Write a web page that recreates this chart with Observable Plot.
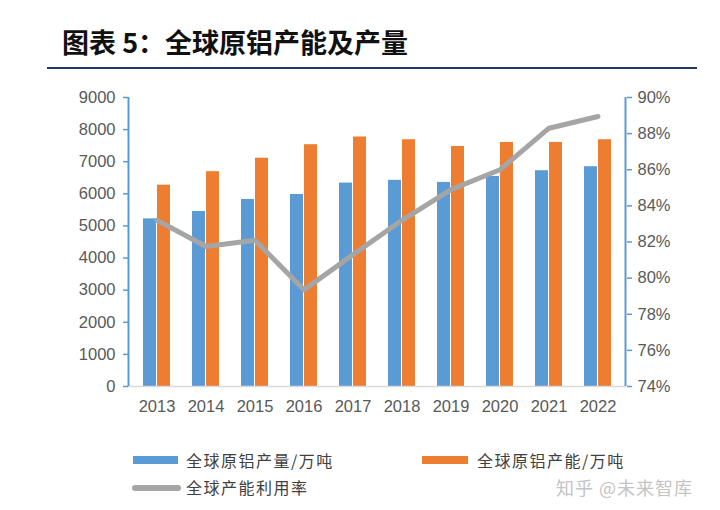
<!DOCTYPE html>
<html>
<head>
<meta charset="utf-8">
<script src="https://cdn.jsdelivr.net/npm/d3@7"></script>
<script src="https://cdn.jsdelivr.net/npm/@observablehq/plot@0.6"></script>
<style>
  html, body { margin: 0; padding: 0; background: #fff; }
  #page { position: relative; width: 720px; height: 510px; overflow: hidden; font-family: "Noto Sans CJK SC", "Noto Sans", sans-serif; }
  #title { position: absolute; left: 62px; top: 23px; font-size: 27px; font-weight: bold; color: #111; line-height: 38px; white-space: nowrap; }
  #rule { position: absolute; left: 47px; top: 67px; width: 650px; height: 2px; background: #1f3864; }
  #chart { position: absolute; left: 0; top: 80px; }
  .leg { position: absolute; font-size: 16px; letter-spacing: 1.5px; color: #404040; line-height: 20px; white-space: nowrap; }
  .sw { position: absolute; }
  #wm { position: absolute; left: 556px; top: 475px; font-size: 18px; color: #c4c4c4; letter-spacing: 1px; white-space: nowrap; line-height: 24px; }
</style>
</head>
<body>
<div id="page">
  <div id="title"></div>
  <div id="rule"></div>
  <div id="chart"></div>
  <div id="legend"></div>
  <div id="wm">知乎 @未来智库</div>
</div>
<script>
const titleText = "图表 5：全球原铝产能及产量";
const years = ["2013","2014","2015","2016","2017","2018","2019","2020","2021","2022"];
const production = [5220, 5450, 5825, 5980, 6335, 6420, 6355, 6540, 6720, 6845];
const capacity   = [6270, 6690, 7110, 7530, 7770, 7685, 7475, 7600, 7600, 7685];
const utilization = [83.2, 81.75, 82.1, 79.35, 81.3, 83.2, 84.9, 86.0, 88.3, 88.95];
const leftTicks = [0,1000,2000,3000,4000,5000,6000,7000,8000,9000];
const rightTicks = [74,76,78,80,82,84,86,88,90];
const seriesNames = ["全球原铝产量/万吨", "全球原铝产能/万吨", "全球产能利用率"];
const colors = ["#5b9bd5", "#ed7d31", "#a5a5a5"];

document.getElementById("title").textContent = titleText;

const pMin = 74, pMax = 90, yMax = 9000;
const toLeft = p => (p - pMin) / (pMax - pMin) * yMax;

const data = years.map((y, i) => ({year: y, prod: production[i], cap: capacity[i], util: toLeft(utilization[i])}));

const axisLines = (index, scales, values, dim) => {
  const g = d3.create("svg:g");
  const x0 = dim.marginLeft, x1 = dim.width - dim.marginRight;
  const yTop = dim.marginTop, yBot = dim.height - dim.marginBottom;
  g.append("line").attr("x1", x0).attr("x2", x1).attr("y1", yBot + 0.5).attr("y2", yBot + 0.5).attr("stroke", "#d9d9d9").attr("stroke-width", 1.5);
  g.append("line").attr("x1", x0 + 0.5).attr("x2", x0 + 0.5).attr("y1", yTop).attr("y2", yBot).attr("stroke", "#5b9bd5").attr("stroke-width", 2);
  g.append("line").attr("x1", x1 - 0.5).attr("x2", x1 - 0.5).attr("y1", yTop).attr("y2", yBot).attr("stroke", "#5b9bd5").attr("stroke-width", 2);
  return g.node();
};

const FS = 16.5;
const chart = Plot.plot({
  width: 720,
  height: 340,
  marginLeft: 128,
  marginRight: 94,
  marginTop: 17,
  marginBottom: 34,
  style: {fontFamily: "'Liberation Sans', Arial, sans-serif", fontSize: FS + "px", color: "#595959", background: "transparent"},
  x: {type: "band", domain: years, paddingInner: 0.44, paddingOuter: 0.22},
  y: {domain: [0, yMax]},
  marks: [
    Plot.barY(data, {x: "year", y: "prod", fill: colors[0], insetRight: 14}),
    Plot.barY(data, {x: "year", y: "cap", fill: colors[1], insetLeft: 14}),
    Plot.lineY(data, {x: "year", y: "util", stroke: colors[2], strokeWidth: 5, strokeLinecap: "round", strokeLinejoin: "round"}),
    axisLines,
    Plot.axisY(leftTicks, {anchor: "left", tickSize: 5, tickPadding: 8, stroke: "#5b9bd5", strokeWidth: 1.5, fill: "#595959", fontSize: FS, label: null, tickFormat: d => String(d)}),
    Plot.axisY(rightTicks.map(toLeft), {anchor: "right", tickSize: 5, tickPadding: 6, stroke: "#5b9bd5", strokeWidth: 1.5, fill: "#595959", fontSize: FS, label: null, tickFormat: v => Math.round(v / yMax * (pMax - pMin) + pMin) + "%"}),
    Plot.axisX({tickSize: 0, tickPadding: 14, fill: "#595959", fontSize: FS, label: null})
  ]
});
document.getElementById("chart").appendChild(chart);

const legend = document.getElementById("legend");
const items = [
  {name: seriesNames[0], color: colors[0], sx: 133, sy: 456, sw: 45, sh: 8, tx: 186, ty: 450, round: false},
  {name: seriesNames[1], color: colors[1], sx: 422, sy: 456, sw: 46, sh: 8, tx: 477, ty: 450, round: false},
  {name: seriesNames[2], color: colors[2], sx: 132, sy: 485, sw: 49, sh: 6, tx: 186, ty: 477, round: true}
];
for (const it of items) {
  const s = document.createElement("div");
  s.className = "sw";
  Object.assign(s.style, {left: it.sx + "px", top: it.sy + "px", width: it.sw + "px", height: it.sh + "px", background: it.color, borderRadius: it.round ? "3px" : "0"});
  legend.appendChild(s);
  const t = document.createElement("div");
  t.className = "leg";
  t.textContent = it.name;
  Object.assign(t.style, {left: it.tx + "px", top: it.ty + "px"});
  legend.appendChild(t);
}
</script>
</body>
</html>
